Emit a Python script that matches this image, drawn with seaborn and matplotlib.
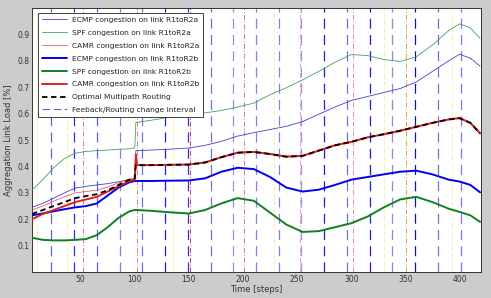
import numpy as np
import matplotlib
matplotlib.use("Agg")
import matplotlib.pyplot as plt
import pandas as pd
import seaborn as sb

steps = [5, 15, 25, 35, 45, 55, 65, 75, 85, 95, 100, 101, 102, 115, 130, 150, 165, 180,
         195, 210, 225, 240, 255, 270, 285, 300, 315, 330, 345, 360, 375, 390, 400, 410, 419]

ecmp_a = [0.245, 0.26, 0.28, 0.30, 0.318, 0.325, 0.33, 0.335, 0.342, 0.35, 0.352, 0.46, 0.46,
          0.462, 0.465, 0.47, 0.48, 0.495, 0.515, 0.528, 0.54, 0.552, 0.57, 0.598, 0.625, 0.65,
          0.665, 0.68, 0.695, 0.72, 0.76, 0.80, 0.825, 0.81, 0.78]
spf_a = [0.31, 0.35, 0.395, 0.43, 0.45, 0.457, 0.46, 0.462, 0.465, 0.467, 0.47, 0.567, 0.567,
         0.575, 0.585, 0.595, 0.603, 0.612, 0.625, 0.64, 0.672, 0.698, 0.728, 0.76, 0.795, 0.824,
         0.82, 0.805, 0.798, 0.815, 0.86, 0.915, 0.94, 0.925, 0.885]
camr_a = [0.235, 0.25, 0.268, 0.285, 0.30, 0.305, 0.31, 0.322, 0.338, 0.352, 0.355, 0.407, 0.407,
          0.407, 0.408, 0.409, 0.417, 0.437, 0.454, 0.457, 0.449, 0.439, 0.442, 0.462, 0.482, 0.495,
          0.512, 0.524, 0.537, 0.552, 0.567, 0.58, 0.585, 0.567, 0.53]
ecmp_b = [0.215, 0.222, 0.23, 0.238, 0.245, 0.25, 0.26, 0.29, 0.32, 0.34, 0.345, 0.345, 0.345,
          0.345, 0.346, 0.347, 0.355, 0.38, 0.395, 0.39, 0.36, 0.32, 0.305, 0.312, 0.33, 0.35,
          0.36, 0.37, 0.38, 0.384, 0.37, 0.35, 0.343, 0.33, 0.302]
spf_b = [0.13, 0.122, 0.12, 0.12, 0.122, 0.125, 0.14, 0.17, 0.205, 0.23, 0.235, 0.235, 0.235,
         0.232, 0.227, 0.222, 0.235, 0.26, 0.28, 0.27, 0.225, 0.18, 0.152, 0.155, 0.17, 0.185,
         0.21, 0.245, 0.275, 0.285, 0.265, 0.24, 0.228, 0.215, 0.19]
camr_b = [0.20, 0.22, 0.235, 0.25, 0.265, 0.275, 0.285, 0.305, 0.325, 0.345, 0.35, 0.445, 0.405,
          0.405, 0.406, 0.407, 0.415, 0.435, 0.452, 0.455, 0.447, 0.437, 0.44, 0.46, 0.48, 0.493,
          0.51, 0.522, 0.535, 0.55, 0.565, 0.578, 0.583, 0.565, 0.525]
optimal = [0.22, 0.235, 0.25, 0.265, 0.28, 0.288, 0.295, 0.31, 0.33, 0.35, 0.355, 0.405, 0.405,
           0.405, 0.406, 0.407, 0.415, 0.435, 0.452, 0.455, 0.447, 0.437, 0.44, 0.46, 0.48, 0.493,
           0.51, 0.522, 0.535, 0.55, 0.565, 0.578, 0.583, 0.565, 0.525]

# feedback / routing change intervals
feedback_steps = [23, 44, 65, 86, 107, 128, 149, 170, 191, 212, 233, 254, 275, 296, 317, 338, 359, 380, 401]
feedback_cols = ['#6060e0', '#3030d0', '#6060e0', '#8080e8', '#7070e0', '#2020c8', '#3030d0', '#7070d8',
                 '#9090f0', '#8080e8', '#8080e0', '#a890e0', '#2020c8', '#7070e0', '#2020c8', '#8888e8',
                 '#1010c0', '#7070e0', '#9070e8']
routing_steps = [52, 102, 151, 201, 253, 302, 351]
routing_cols = ['#d87090', '#e08080', '#c84060', '#d87090', '#d8a0c8', '#e09090', '#d8a050']
faint_steps = [10, 37, 135, 229, 330, 393]

series = {
    "ECMP congestion on link R1toR2a": (ecmp_a, '#4040d0', 0.6),
    "SPF congestion on link R1toR2a": (spf_a, '#40a060', 0.6),
    "CAMR congestion on link R1toR2a": (camr_a, '#e06070', 0.6),
    "ECMP congestion on link R1toR2b": (ecmp_b, '#0000ee', 1.4),
    "SPF congestion on link R1toR2b": (spf_b, '#108020', 1.4),
    "CAMR congestion on link R1toR2b": (camr_b, '#e02020', 1.4),
}

sb.set_style("white")
plt.rcParams['font.family'] = ['DejaVu Sans']

fig = plt.figure(figsize=(4.91, 2.98), dpi=100, facecolor='#cccccc')
ax = fig.add_axes([0.065, 0.087, 0.915, 0.886])
ax.set_facecolor('white')

for s, c in zip(feedback_steps, feedback_cols):
    ax.axvline(s, color=c, lw=0.9, ls=(0, (8, 5)), zorder=1)
for s, c in zip(routing_steps, routing_cols):
    ax.axvline(s, color=c, lw=0.7, ls=(0, (5, 2, 1, 2)), zorder=1)
for s in faint_steps:
    ax.axvline(s, color='#f0e890', lw=0.6, ls=(0, (4, 2, 1, 2)), zorder=1)

for name, (vals, col, lw) in series.items():
    sb.lineplot(x=steps, y=vals, ax=ax, color=col, linewidth=lw, label=name, zorder=3)
sb.lineplot(x=steps, y=optimal, ax=ax, color='black', linewidth=1.3, label="Optimal Multipath Routing",
            zorder=4)
ax.lines[-1].set_linestyle((0, (3, 2)))

ax.set_xlim(5, 420)
ax.set_ylim(0, 1.0)
ax.set_xticks([50, 100, 150, 200, 250, 300, 350, 400])
ax.set_yticks([0.1, 0.2, 0.3, 0.4, 0.5, 0.6, 0.7, 0.8, 0.9])
ax.tick_params(axis='both', direction='in', length=3, width=0.6, labelsize=5.5, colors='#333333',
               pad=2)
for sp in ax.spines.values():
    sp.set_color('#333333')
    sp.set_linewidth(0.7)
ax.set_xlabel("Time [steps]", fontsize=6, color='#333333', labelpad=1)
ax.set_ylabel("Aggregation Link Load [%]", fontsize=6, color='#333333', labelpad=3)

handles, labels = ax.get_legend_handles_labels()
fb = plt.Line2D([], [], color='#6060e0', lw=0.8, ls=(0, (7, 3)))
handles.append(fb)
labels.append("Feeback/Routing change interval")
leg = ax.legend(handles, labels, loc='upper left', bbox_to_anchor=(0.005, 0.995), fontsize=5.4,
                frameon=True, fancybox=False, edgecolor='#222222', framealpha=1,
                handlelength=3.4, handletextpad=0.6, labelspacing=0.88, borderpad=0.5)
leg.get_frame().set_linewidth(0.6)
for t in leg.get_texts():
    t.set_color('#222222')

fig.savefig("out.png", dpi=100, facecolor=fig.get_facecolor())
